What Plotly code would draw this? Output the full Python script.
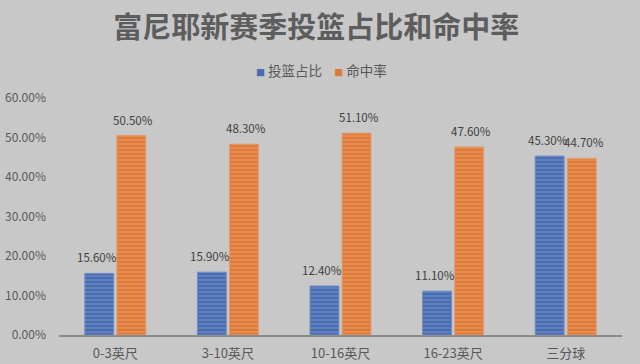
import plotly.graph_objects as go

categories = ["0-3英尺", "3-10英尺", "10-16英尺", "16-23英尺", "三分球"]
shot_share = [0.156, 0.159, 0.124, 0.111, 0.453]
fg_pct = [0.505, 0.483, 0.511, 0.476, 0.447]
y_ticks = [0, 0.1, 0.2, 0.3, 0.4, 0.5, 0.6]
series_names = ["投篮占比", "命中率"]
series_colors = ["#4a6cb0", "#de7a3a"]

font_cjk = "Noto Sans CJK SC, sans-serif"
BARGAP = 0.43
half = (1 - BARGAP) / 4  # offset of each bar centre within its group

fig = go.Figure()
fig.add_trace(go.Bar(
    name=series_names[0], x=categories, y=shot_share,
    marker=dict(color=series_colors[0], line=dict(color="#6f8cc4", width=1),
                pattern=dict(shape="-", fgcolor="#8aa2d2", size=4, solidity=0.35)),
))
fig.add_trace(go.Bar(
    name=series_names[1], x=categories, y=fg_pct,
    marker=dict(color=series_colors[1], line=dict(color="#e59a66", width=1),
                pattern=dict(shape="-", fgcolor="#eeaa7c", size=4, solidity=0.35)),
))

annotations = []
for values, off, xs in ((shot_share, -half, -2), (fg_pct, half, 2)):
    for i, v in enumerate(values):
        annotations.append(dict(
            x=i + off, y=v, xref="x", yref="y", text=f"{v:.2%}",
            showarrow=False, yanchor="bottom", yshift=6, xshift=xs,
            font=dict(size=11.5, color="#404040", family=font_cjk),
        ))

sq = "<span style='color:{c};font-size:9px'>■</span> "
legend_text = (
    sq.format(c=series_colors[0]) + series_names[0]
    + "&nbsp;&nbsp;&nbsp;&nbsp;"
    + sq.format(c=series_colors[1]) + series_names[1]
)
annotations.append(dict(
    x=0.466, y=1.118, xref="paper", yref="paper", text=legend_text, showarrow=False,
    xanchor="center", yanchor="middle",
    font=dict(size=13.5, color="#595959", family=font_cjk),
))

fig.update_layout(
    width=640, height=364,
    paper_bgcolor="#c8c8c8", plot_bgcolor="#c8c8c8",
    margin=dict(l=59, r=18, t=98, b=29),
    barmode="group", bargap=BARGAP, bargroupgap=0.1,
    title=dict(text="<b>富尼耶新赛季投篮占比和命中率</b>", x=0.494, xanchor="center",
               y=0.923, yanchor="middle",
               font=dict(size=29, color="#5d5d5d", family=font_cjk)),
    showlegend=False,
    annotations=annotations,
)
fig.update_xaxes(showgrid=False, showline=True, linecolor="#8c8c8c", linewidth=2,
                 ticks="", automargin=False, ticklabelstandoff=5,
                 tickfont=dict(size=13, color="#595959", family=font_cjk))
fig.update_yaxes(range=[0, 0.6], tickvals=y_ticks, tickformat=".2%", showgrid=False,
                 zeroline=False, showline=False, ticks="", automargin=False,
                 ticklabelstandoff=12,
                 tickfont=dict(size=12, color="#595959", family=font_cjk))

fig.write_html("out.html", config={"displayModeBar": False},
               post_script="document.body.style.margin='0';document.body.style.padding='0';")
